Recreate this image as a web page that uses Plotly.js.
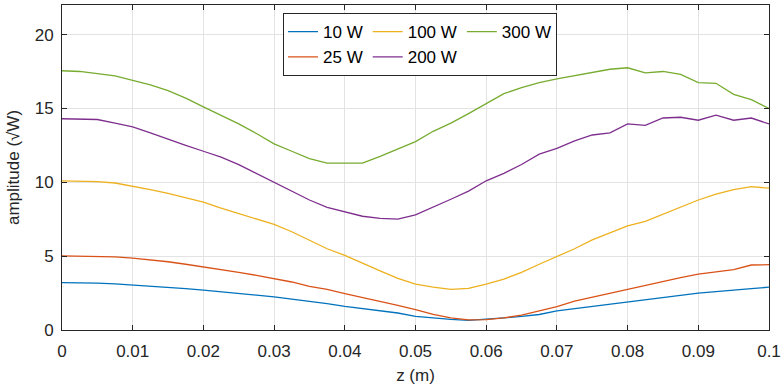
<!DOCTYPE html>
<html>
<head>
<meta charset="utf-8">
<script src="https://cdn.plot.ly/plotly-3.0.1.min.js"></script>
<style>html,body{margin:0;padding:0;background:#fff;}#chart{width:784px;height:390px;}</style>
</head>
<body>
<div id="chart"></div>
<script>
const z = [0,0.0025,0.005,0.0075,0.01,0.0125,0.015,0.0175,0.02,0.0225,0.025,0.0275,0.03,0.0325,0.035,0.0375,0.04,0.0425,0.045,0.0475,0.05,0.0525,0.055,0.0575,0.06,0.0625,0.065,0.0675,0.07,0.0725,0.075,0.0775,0.08,0.0825,0.085,0.0875,0.09,0.0925,0.095,0.0975,0.1];
const p10 = [3.21,3.2,3.17,3.12,3.05,2.98,2.9,2.8,2.7,2.6,2.48,2.36,2.24,2.1,1.95,1.78,1.6,1.45,1.3,1.15,0.92,0.8,0.72,0.65,0.72,0.82,0.92,1.05,1.3,1.45,1.6,1.72,1.9,2.05,2.2,2.35,2.5,2.6,2.68,2.8,2.9];
const p25 = [5.02,5.0,4.99,4.95,4.87,4.75,4.62,4.45,4.28,4.1,3.9,3.7,3.5,3.25,2.95,2.75,2.47,2.22,1.95,1.67,1.38,1.05,0.82,0.68,0.7,0.82,1.0,1.3,1.58,1.95,2.22,2.5,2.75,3.05,3.3,3.55,3.78,3.95,4.08,4.4,4.42];
const p100 = [10.1,10.1,10.05,9.95,9.75,9.5,9.25,8.95,8.65,8.25,7.9,7.5,7.15,6.65,6.1,5.5,5.05,4.5,4.0,3.5,3.1,2.9,2.75,2.82,3.1,3.45,3.9,4.45,4.95,5.5,6.1,6.6,7.05,7.35,7.85,8.35,8.8,9.2,9.5,9.7,9.6];
const p200 = [14.3,14.25,14.25,14.0,13.75,13.35,12.9,12.5,12.1,11.7,11.2,10.6,10.05,9.45,8.8,8.3,8.0,7.7,7.55,7.5,7.8,8.3,8.85,9.4,10.1,10.6,11.2,11.9,12.3,12.8,13.2,13.35,13.95,13.85,14.35,14.4,14.2,14.55,14.2,14.35,13.95];
const p300 = [17.55,17.5,17.35,17.2,16.9,16.6,16.2,15.7,15.1,14.55,13.95,13.3,12.6,12.1,11.6,11.3,11.3,11.3,11.75,12.25,12.75,13.45,14.0,14.65,15.35,16.0,16.4,16.75,17.0,17.2,17.45,17.65,17.75,17.4,17.5,17.3,16.75,16.7,15.95,15.6,15.0];
const xTicks = [0,0.01,0.02,0.03,0.04,0.05,0.06,0.07,0.08,0.09,0.1];
const xTickText = ['0','0.01','0.02','0.03','0.04','0.05','0.06','0.07','0.08','0.09','0.1'];
const yTicks = [0,5,10,15,20];

const series = [
  {name:'10 W', y:p10, color:'#0072BD', group:'a'},
  {name:'25 W', y:p25, color:'#D95319', group:'a'},
  {name:'100 W', y:p100, color:'#EDB120', group:'b'},
  {name:'200 W', y:p200, color:'#7E2F8E', group:'b'},
  {name:'300 W', y:p300, color:'#77AC30', group:'c'}
];
const traces = series.map(s => ({
  x: z, y: s.y, name: s.name, type: 'scatter', mode: 'lines',
  legendgroup: s.group,
  line: {color: s.color, width: 1.3}
}));
const font = {family: '"Liberation Sans", Arial, sans-serif', size: 17, color: '#262626'};
const axisCommon = {
  showline: true, mirror: 'ticks', linecolor: '#262626', linewidth: 1,
  ticks: 'inside', ticklen: 5, tickcolor: '#262626', tickwidth: 1,
  showgrid: true, gridcolor: '#e3e3e3', gridwidth: 1, zeroline: false,
  tickfont: font
};
const layout = {
  width: 784, height: 390,
  margin: {l: 62, r: 15, t: 5, b: 60},
  paper_bgcolor: '#fff', plot_bgcolor: '#fff',
  font: font,
  showlegend: true,
  legend: {
    orientation: 'h', traceorder: 'grouped', tracegroupgap: 4,
    x: 0.3126, y: 0.975, xanchor: 'left', yanchor: 'top',
    bgcolor: '#fff', bordercolor: '#262626', borderwidth: 1,
    font: {family: font.family, size: 17, color: '#000'}
  },
  xaxis: Object.assign({}, axisCommon, {
    range: [0, 0.1], tickvals: xTicks, ticktext: xTickText,
    ticklabelstandoff: 6,
    title: {text: 'z (m)', font: font, standoff: 8}
  }),
  yaxis: Object.assign({}, axisCommon, {
    range: [0, 22], tickvals: yTicks,
    ticklabelstandoff: 4,
    title: {text: 'amplitude (√W)', font: font, standoff: 10}
  })
};
Plotly.newPlot('chart', traces, layout, {displayModeBar: false, staticPlot: true});
</script>
</body>
</html>
